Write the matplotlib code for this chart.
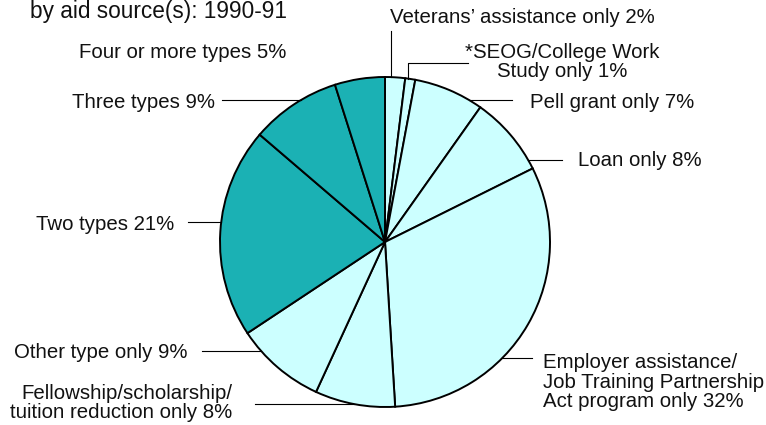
import numpy as np
import matplotlib
matplotlib.use("Agg")
import matplotlib.pyplot as plt

plt.rcParams['font.family'] = ['Liberation Sans', 'DejaVu Sans']

# aid source shares (percent), clockwise from 12 o'clock
labels = [
    "Veterans\u2019 assistance only 2%",
    "*SEOG/College Work\nStudy only 1%",
    "Pell grant only 7%",
    "Loan only 8%",
    "Employer assistance/\nJob Training Partnership\nAct program only 32%",
    "Fellowship/scholarship/\ntuition reduction only 8%",
    "Other type only 9%",
    "Two types 21%",
    "Three types 9%",
    "Four or more types 5%",
]
shares = [2, 1, 7, 8, 32, 8, 9, 21, 9, 5]
multi = [False, False, False, False, False, False, False, True, True, True]

title = "by aid source(s): 1990-91"

light = "#ccffff"
teal = "#1bb1b4"

W, H = 766, 425
CX, CY, R = 385, 242, 165  # pie centre / radius in pixels


def px(x, y):
    """pixel position -> data units (pie centre at 0,0, radius 1)"""
    return (x - CX) / R, (CY - y) / R


fig = plt.figure(figsize=(W / 100, H / 100), dpi=100)
ax = fig.add_axes([0, 0, 1, 1])

colors = [teal if m else light for m in multi]
ax.pie(shares, colors=colors, startangle=90, counterclock=False, radius=1,
       wedgeprops=dict(edgecolor="black", linewidth=1.4))
ax.set_xlim(-CX / R, (W - CX) / R)
ax.set_ylim(-(H - CY) / R, CY / R)
ax.set_aspect("equal")
ax.axis("off")

# label text placement (pixels): x, y, ha
text_pos = [
    (390, 17, "left"),
    (562, 62, "center"),
    (530, 102, "left"),
    (578, 160, "left"),
    (543, 382, "left"),
    (232, 403, "right"),
    (188, 353, "right"),
    (174, 225, "right"),
    (215, 102, "right"),
    (286, 52, "right"),
]
# leader lines: points in pixels; last point is snapped onto the circle
# ('h' = slide horizontally to the edge, 'v' = slide vertically)
leaders = [
    ([(391, 31), (391, 0)], "v"),
    ([(468, 63), (408, 63), (408, 0)], "v"),
    ([(512, 100), (0, 100)], "h"),
    ([(562, 160), (0, 160)], "h"),
    ([(532, 358), (0, 358)], "h"),
    ([(255, 404), (0, 404)], "h"),
    ([(202, 351), (0, 351)], "h"),
    ([(188, 222), (0, 222)], "h"),
    ([(222, 100), (0, 100)], "h"),
    ([(297, 47), (0, 47)], "h"),
]

for lab, (tx, ty, ha), (pts, mode) in zip(labels, text_pos, leaders):
    x, y = px(tx, ty)
    ax.text(x, y, lab, ha=ha, va="center", fontsize=14.7, color="#111111",
            linespacing=1.05, multialignment="center" if ha == "center" else ha)
    d = [px(*p) for p in pts]
    # snap end onto the pie edge
    if mode == "h":
        ey = d[-2][1]
        ex = np.sign(d[-2][0]) * np.sqrt(1 - ey ** 2)
    else:
        ex = d[-2][0]
        ey = np.sqrt(1 - ex ** 2)
    d[-1] = (ex, ey)
    ax.plot([p[0] for p in d], [p[1] for p in d], color="black", lw=0.8)

tx, ty = px(30, 18)
ax.text(tx, ty, title, ha="left", va="baseline", fontsize=16.3, color="#111111")

fig.savefig("out.png", dpi=100)
